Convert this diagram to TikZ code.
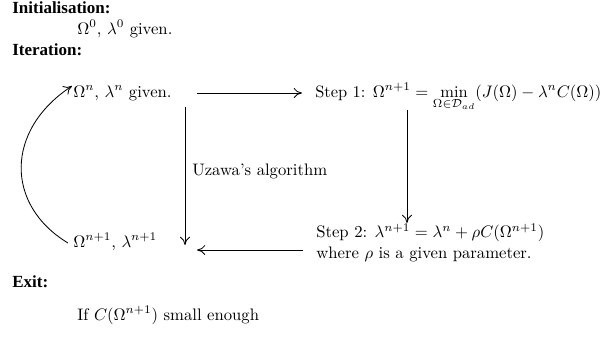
\documentclass[tikz,border=0pt]{standalone}
\usepackage{fontspec}
\usepackage{amsmath}
\newfontfamily\hdfont{Liberation Serif}
\usetikzlibrary{arrows.meta}
\begin{document}
\begin{tikzpicture}[x=0.6pt,y=-0.6pt,
  txt/.style={anchor=base west,inner sep=0pt,font=\fontsize{10}{12.4}\selectfont},
  hd/.style={anchor=base west,inner sep=0pt,font=\hdfont\bfseries\fontsize{10.2}{12}\selectfont},
  arr/.style={-{To[length=5pt,width=6pt]},line width=0.5pt}]
\useasboundingbox (0,0) rectangle (600,337);
\node[hd] (init) at (12,13) {Initialisation:};
\node[txt] (init0) at (77,34) {$\Omega^0$, $\lambda^0$ given.};
\node[hd] (iter) at (12,55) {Iteration:};
\node[txt] (up) at (73,97) {$\Omega^n$, $\lambda^n$ given.};
\node[txt,font=\fontsize{9.85}{12}\selectfont] (s1) at (315,97) {Step 1: $\Omega^{n+1}=\min\limits_{\Omega\in\mathcal{D}_{ad}}(J(\Omega)-\lambda^nC(\Omega))$};
\node[txt] (uz) at (192,175) {Uzawa's algorithm};
\node[txt] (low) at (73,247) {$\Omega^{n+1}$, $\lambda^{n+1}$};
\node[txt,align=left] (s2) at (316,258) {Step 2: $\lambda^{n+1}=\lambda^n+\rho C(\Omega^{n+1})$\\where $\rho$ is a given parameter.};
\node[hd] (exit) at (12,287) {Exit:};
\node[txt] (ifc) at (77,320) {If $C(\Omega^{n+1})$ small enough};
\coordinate (a1s) at (197,93);
\coordinate (a1e) at (302,93);
\coordinate (a2s) at (407,110);
\coordinate (a2e) at (407,223);
\coordinate (a3s) at (185,107);
\coordinate (a3e) at (185,245);
\coordinate (a4s) at (303,250);
\coordinate (a4e) at (197,250);
\coordinate (cs) at (68,243);
\coordinate (ce) at (72,86);
\draw[arr] (a1s) -- (a1e);
\draw[arr] (a2s) -- (a2e);
\draw[arr] (a3s) -- (a3e);
\draw[arr] (a4s) -- (a4e);
\draw[arr] (cs) .. controls (5,205) and (5,130) .. (ce);
\end{tikzpicture}
\end{document}
